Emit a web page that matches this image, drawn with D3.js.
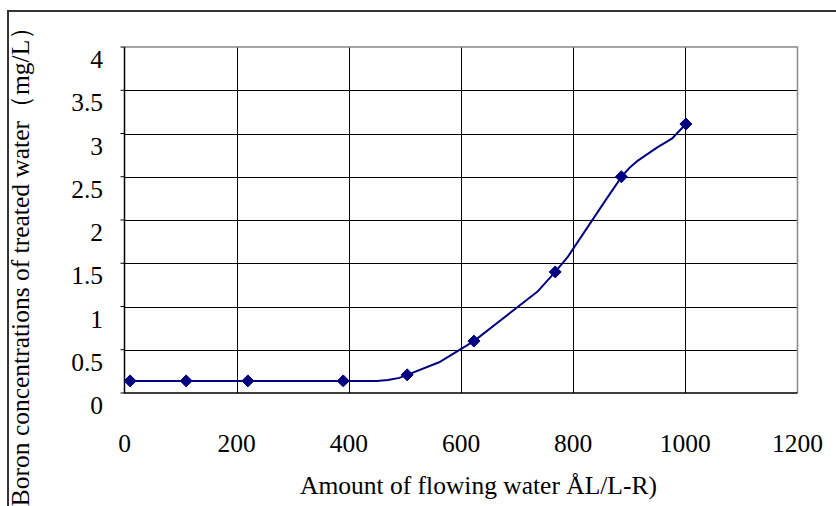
<!DOCTYPE html>
<html>
<head>
<meta charset="utf-8">
<script src="https://cdn.jsdelivr.net/npm/d3@7"></script>
<style>
  html, body { margin: 0; padding: 0; background: #fff; }
  svg { display: block; }
  .t { font-family: "Liberation Serif"; fill: #000; }
</style>
</head>
<body>
<svg id="chart" width="836" height="506"></svg>
<script>
// ---- data ----
const markerX = [10, 110, 220, 390, 504, 623, 768, 886, 1001];
const markerY = [0.14, 0.14, 0.14, 0.14, 0.21, 0.60, 1.40, 2.50, 3.11];
const lineX = [10, 110, 220, 390, 450, 470, 490, 504, 561, 623, 736, 768, 790, 860, 878, 886, 900, 916, 950, 976, 1001];
const lineY = [0.14, 0.14, 0.14, 0.14, 0.14, 0.15, 0.175, 0.21, 0.355, 0.60, 1.17, 1.40, 1.57, 2.25, 2.42, 2.50, 2.60, 2.69, 2.84, 2.94, 3.11];
const xTicks = [0, 200, 400, 600, 800, 1000, 1200];
const yTicks = [0, 0.5, 1, 1.5, 2, 2.5, 3, 3.5, 4];
const xTitle = "Amount of flowing water  ÅL/L-R)";
const yTitle = "Boron concentrations of treated water（mg/L）";

(function () {
const FS = 25.5;
const svg = d3.select("#chart");
const pL = 124.5, pR = 797.5, pT = 47, pB = 393;
const x = d3.scaleLinear().domain([0, 1200]).range([pL, pR]);
const y = d3.scaleLinear().domain([0, 4]).range([pB, pT]);

// outer frame
svg.append("rect")
  .attr("x", 8).attr("y", 11).attr("width", 840).attr("height", 520)
  .attr("fill", "none").attr("stroke", "#333").attr("stroke-width", 2);

// gridlines
const g = svg.append("g");
g.selectAll("line.h").data(yTicks.filter(d => d > 0 && d < 4)).join("line")
  .attr("x1", pL).attr("x2", pR)
  .attr("y1", d => Math.round(y(d)) + 0.5).attr("y2", d => Math.round(y(d)) + 0.5)
  .attr("stroke", "#000").attr("stroke-width", 1);
g.selectAll("line.v").data(xTicks.filter(d => d > 0 && d < 1200)).join("line")
  .attr("y1", pT).attr("y2", pB)
  .attr("x1", d => Math.round(x(d)) + 0.5).attr("x2", d => Math.round(x(d)) + 0.5)
  .attr("stroke", "#000").attr("stroke-width", 1);

// plot border: top/right gray
svg.append("path")
  .attr("d", `M${pL},${pT}H${pR}V${pB}`)
  .attr("fill", "none").attr("stroke", "#888").attr("stroke-width", 1.5);
// axes
svg.append("path")
  .attr("d", `M${pL},${pT}V${pB}H${pR}`)
  .attr("fill", "none").attr("stroke", "#000").attr("stroke-width", 1.5);
// y ticks (outward)
svg.selectAll("line.yt").data(yTicks).join("line")
  .attr("x1", pL - 4).attr("x2", pL)
  .attr("y1", d => y(d)).attr("y2", d => y(d))
  .attr("stroke", "#000").attr("stroke-width", 1);

// tick labels
svg.selectAll("text.yl").data(yTicks).join("text")
  .attr("class", "t yl")
  .attr("x", 103).attr("y", d => y(d) + 21)
  .attr("text-anchor", "end").attr("font-size", FS)
  .text(d => String(d));
svg.selectAll("text.xl").data(xTicks).join("text")
  .attr("class", "t xl")
  .attr("x", d => x(d)).attr("y", 452)
  .attr("text-anchor", "middle").attr("font-size", FS)
  .text(d => String(d));

// titles
svg.append("text").attr("class", "t")
  .attr("x", 300).attr("y", 494).attr("font-size", FS)
  .text(xTitle);

svg.append("text").attr("class", "t")
  .attr("transform", "translate(29,260) rotate(-90)")
  .attr("text-anchor", "middle").attr("font-size", FS)
  .text(yTitle);

// line
const pts = lineX.map((v, i) => [v, lineY[i]]);
svg.append("path")
  .attr("d", d3.line().x(d => x(d[0])).y(d => y(d[1])).curve(d3.curveLinear)(pts))
  .attr("fill", "none").attr("stroke", "#000080").attr("stroke-width", 2)
  .attr("stroke-linejoin", "round");

// markers
const mk = markerX.map((v, i) => [v, markerY[i]]);
svg.selectAll("path.mk").data(mk).join("path")
  .attr("transform", d => `translate(${x(d[0])},${y(d[1])})`)
  .attr("d", "M0,-6L6,0L0,6L-6,0Z")
  .attr("fill", "#000080").attr("stroke", "#000080").attr("stroke-width", 1);
})();
</script>
</body>
</html>
